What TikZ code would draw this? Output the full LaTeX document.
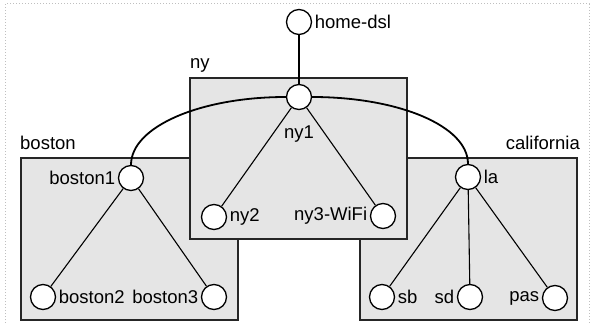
\documentclass[tikz,border=0pt]{standalone}
\usepackage{fontspec}
\setmainfont{Liberation Sans}
\usepackage{xcolor}
\tikzset{
  host/.style={circle,draw=black,fill=white,line width=1.3pt,minimum size=25pt,inner sep=0pt},
  siteBox/.style={draw=black!85,fill=gray!20,line width=1.4pt},
  siteName/.style={inner sep=0pt},
  link/.style={line width=1.1pt},
  trunk/.style={line width=1.8pt},
  every label/.style={inner sep=2.5pt}
}
\begin{document}
\begin{tikzpicture}[x=1pt,y=-1pt,font=\fontsize{18.5}{21}\selectfont]
\useasboundingbox (0,0) rectangle (594,323);
\draw [gray!50,dotted,line width=1pt] (5,323) -- (5,4) -- (589,4) -- (589,323);
%
\draw [siteBox] (21,158) rectangle (238,320);
\draw [siteBox] (360,158) rectangle (577,320);
\draw [siteBox] (190,78) rectangle (407,239);
\node [siteName,anchor=base west] (bostonName) at (20,150) {boston};
\node [siteName,anchor=base west] (nyName) at (190,69) {ny};
\node [siteName,anchor=base east] (californiaName) at (580,150) {california};
%
\node [host,label=right:home-dsl] (homeDsl) at (299,22) {};
\node [host,label={[label distance=13pt]below:ny1}] (ny1) at (299,97) {};
\node [host,label=right:ny2] (ny2) at (214,217) {};
\node [host,label=left:ny3-WiFi] (ny3) at (383,216) {};
\node [host,label=left:boston1] (boston1) at (131,178) {};
\node [host,label=right:boston2] (boston2) at (43,297) {};
\node [host,label=left:boston3] (boston3) at (214,297) {};
\node [host,label=right:la] (la) at (468,177) {};
\node [host,label=right:sb] (sb) at (382,297) {};
\node [host,label=left:sd] (sd) at (470,297) {};
\node [host,label=left:pas] (pas) at (555,298) {};
%
\draw [trunk] (boston1.north) .. controls +(0,-38) and +(-86,0) .. (ny1.west);
\draw [trunk] (ny1.east) .. controls +(86,0) and +(0,-38) .. (la.north);
%
\draw [link] (homeDsl) -- (ny1);
\draw [link] (ny1) -- (ny2);
\draw [link] (ny1) -- (ny3);
\draw [link] (boston1) -- (boston2);
\draw [link] (boston1) -- (boston3);
\draw [link] (la) -- (sb);
\draw [link] (la) -- (sd);
\draw [link] (la) -- (pas);
\end{tikzpicture}
\end{document}
